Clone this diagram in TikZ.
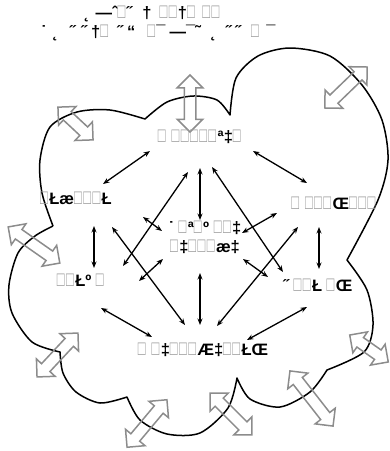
\documentclass[tikz,border=0pt]{standalone}
\usepackage{fontspec}
\setmainfont{Liberation Sans}
\usetikzlibrary{arrows.meta,shapes.arrows,calc}

\definecolor{boxgray}{gray}{0.62}
\definecolor{fatgray}{gray}{0.55}
\newcommand{\bx}{\textcolor{boxgray}{\resizebox{7.8pt}{12.5pt}{\mdseries □}}\hspace{1.4pt}}

\begin{document}
\begin{tikzpicture}[x=1pt, y=-1pt,
    lbl/.style={font=\fontsize{16.5}{19}\selectfont\bfseries, inner sep=1pt, align=center},
    link/.style={line width=1.3pt, {Stealth[length=6.5pt,width=5pt]}-{Stealth[length=6.5pt,width=5pt]}},
    fatarrow/.style={double arrow, draw=fatgray, line width=1.5pt, inner xsep=0pt, inner ysep=5pt,
      minimum width=24pt, double arrow head extend=7pt},
    cloudline/.style={line width=1.5pt, line join=round}]
    \useasboundingbox (0,0) rectangle (390,451);

    % title
    \node[lbl, anchor=base west] (title1) at (83,18)
      {˛\hspace{6pt}—ˆ\bx{}˝\hspace{10pt}†\hspace{8pt}\bx\bx{}†\bx\hspace{6pt}\bx\bx};
    \node[lbl, anchor=base west] (title2) at (40,37)
      {˙\hspace{6pt}˛\hspace{12pt}˝\hspace{6pt}˝\hspace{4pt}†\bx\hspace{8pt}˝\hspace{4pt}“\hspace{12pt}\bx{}¯\hspace{4pt}—¯˜\hspace{10pt}˛\hspace{10pt}˝\hspace{4pt}˝\hspace{10pt}\bx\hspace{6pt}¯};

    % cloud
    \draw[cloudline]
      plot[smooth] coordinates {(53,226) (42,193) (40,160) (50,127) (77,112) (110,110) (145,119)}
      -- plot[smooth] coordinates {(145,119) (167,102) (193,96) (217,100) (230,115)}
      -- plot[smooth] coordinates {(230,115) (236,78) (258,56) (290,48) (330,56) (362,85) (382,120) (388,160) (378,200) (347,260)}
      -- plot[smooth] coordinates {(347,260) (367,290) (373,325) (364,352) (327,370)}
      -- plot[smooth] coordinates {(327,370) (310,392) (280,407) (250,399) (237,378)}
      -- plot[smooth] coordinates {(237,378) (228,408) (200,433) (167,434) (140,420) (127,397)}
      -- plot[smooth] coordinates {(127,397) (100,403) (76,392) (63,373) (60,352)}
      -- plot[smooth] coordinates {(60,352) (32,342) (12,313) (9,285) (18,253) (35,236) (53,226)};

    % gray double arrows
    \node[fatarrow, minimum height=57pt, rotate=90]  (out1) at (190,103.5) {};
    \node[fatarrow, minimum height=48pt, rotate=-43] (out2) at (75.5,123.5) {};
    \node[fatarrow, minimum height=59pt, rotate=44]  (out3) at (346,87.5) {};
    \node[fatarrow, minimum height=63pt, rotate=-35] (out4) at (34,245) {};
    \node[fatarrow, minimum height=60pt, rotate=47]  (out5) at (57.5,355) {};
    \node[fatarrow, minimum height=62pt, rotate=50]  (out6) at (147,423.5) {};
    \node[fatarrow, minimum height=59pt, rotate=-45] (out7) at (231,414) {};
    \node[fatarrow, minimum height=70pt, rotate=-52] (out8) at (311.5,398.5) {};
    \node[fatarrow, minimum height=47pt, rotate=-35] (out9) at (369,348.5) {};

    % nodes
    \node[lbl] (top)  at (200,137) {\bx\ \bx\bx\bx\bx\bx{}ª‡\bx};
    \node[lbl] (left) at (76,198)  {\bx{}Łæ\bx\bx\bx{}Ł};
    \node[lbl] (right) at (334,203) {\bx\ \bx\bx\bx{}Œ\bx\bx\bx};
    \node[lbl] (mid)  at (205,237) {˙ \bx{}ª\bx{}º \bx\bx{}‡\\\bx{}‡\bx\bx\bx{}æ‡};
    \node[lbl] (lowl) at (81,280)  {\bx\bx{}Łº \bx};
    \node[lbl] (lowr) at (318,285) {˝ \bx\bx{}Ł \bx{}Œ};
    \node[lbl] (bot)  at (203,350) {\bx\ \bx{}‡\bx\bx\bx{}Æ‡\bx\bx{}ŁŒ};

    % links
    \draw[link] ($(top)+(-50,14)$) -- ($(left)+(27,-14)$);
    \draw[link] ($(top)+(53,14)$) -- ($(right)+(-27,-20)$);
    \draw[link] ($(top)+(0,31)$) -- ($(mid)+(-5,-17)$);
    \draw[link] ($(top)+(-12,35)$) -- ($(lowl)+(42,-14)$);
    \draw[link] ($(top)+(12,30)$) -- ($(lowr)+(-35,-13)$);
    \draw[link] ($(left)+(18,28)$) -- ($(lowl)+(13,-12)$);
    \draw[link] ($(left)+(36,29)$) -- ($(bot)+(-18,-25)$);
    \draw[link] ($(mid)+(-43,-6)$) -- ($(left)+(67,19)$);
    \draw[link] ($(mid)+(-42,22)$) -- ($(lowl)+(58,1)$);
    \draw[link] ($(mid)+(37,-4)$) -- ($(right)+(-57,10)$);
    \draw[link] ($(mid)+(38,22)$) -- ($(lowr)+(-50,-8)$);
    \draw[link] ($(mid)+(-5,36)$) -- ($(bot)+(-3,-25)$);
    \draw[link] ($(right)+(-15,24)$) -- ($(lowr)+(1,-16)$);
    \draw[link] ($(right)+(-36,24)$) -- ($(bot)+(14,-24)$);
    \draw[link] ($(lowl)+(20,28)$) -- ($(bot)+(-51,-13)$);
    \draw[link] ($(lowr)+(-11,22)$) -- ($(bot)+(44,-10)$);
\end{tikzpicture}
\end{document}
